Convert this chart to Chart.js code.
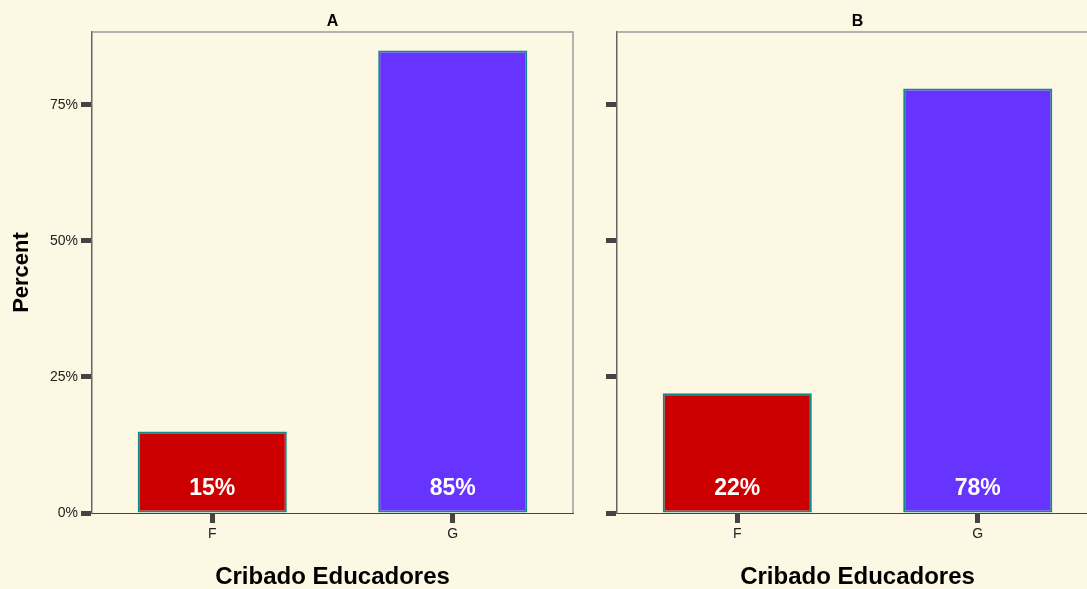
<!DOCTYPE html>
<html>
<head>
<meta charset="utf-8">
<script src="https://cdn.jsdelivr.net/npm/chart.js@4/dist/chart.umd.min.js"></script>
<style>
  html, body { margin: 0; padding: 0; }
  body { width: 1087px; height: 589px; overflow: hidden; position: relative; background: #FDF8E4; }
  canvas { position: absolute; top: 0; }
  #chartA { left: 0; }
  #chartB { left: 590px; }
</style>
</head>
<body>
<canvas id="chartA" width="590" height="589"></canvas>
<canvas id="chartB" width="520" height="589"></canvas>
<script>
// ---------- Data ----------
const categories = ["F", "G"];
const panelTitles = ["A", "B"];
const valuesA = [15, 85];
const valuesB = [22, 78];
const yMax = 88.4;
const yStep = 25;
const barColors = ["#CC0000", "#6633FF"];

const FONT = "'Liberation Sans', Arial, sans-serif";

// ---------- Plugins ----------
// panel title above the plot + frame round the plot area
const framePlugin = {
    id: "frame",
    beforeDatasetsDraw(chart, args, opts) {
        const { ctx, chartArea: a } = chart;
        ctx.save();
        ctx.strokeStyle = "#9a9a9a";
        ctx.lineWidth = 1.5;
        ctx.beginPath();
        ctx.moveTo(a.left, a.top);
        ctx.lineTo(a.right, a.top);
        ctx.lineTo(a.right, a.bottom);
        ctx.stroke();
        ctx.fillStyle = "#000";
        ctx.font = `bold 16px ${FONT}`;
        ctx.textAlign = "center";
        ctx.textBaseline = "middle";
        ctx.fillText(opts.text, (a.left + a.right) / 2, 22);
        ctx.restore();
    }
};

// percentage labels near the base of each bar
const barLabels = {
    id: "barLabels",
    afterDatasetsDraw(chart) {
        const { ctx } = chart;
        ctx.save();
        ctx.fillStyle = "#fff";
        ctx.font = `bold 23px ${FONT}`;
        ctx.textAlign = "center";
        ctx.textBaseline = "middle";
        chart.data.datasets.forEach((ds, di) => {
            chart.getDatasetMeta(di).data.forEach((bar, i) => {
                ctx.fillText(`${ds.data[i]}%`, bar.x, bar.base - 24);
            });
        });
        ctx.restore();
    }
};

// ---------- Charts ----------
function makePanel(canvas, title, values, showY, yWidth, padRight) {
    return new Chart(canvas, {
        type: "bar",
        data: {
            labels: categories,
            datasets: [{
                data: values,
                backgroundColor: barColors,
                borderColor: "#138a87",
                borderWidth: 2,
                borderSkipped: false,
                barPercentage: 0.62,
                categoryPercentage: 1
            }]
        },
        options: {
            responsive: false,
            animation: false,
            layout: { padding: { left: 0, right: padRight, top: 32, bottom: 0 } },
            plugins: {
                legend: { display: false },
                tooltip: { enabled: false },
                frame: { text: title }
            },
            scales: {
                x: {
                    afterFit: s => { s.height = 76; },
                    grid: { offset: false, drawOnChartArea: false, color: "#444", tickWidth: 5, tickLength: 10 },
                    border: { color: "#444", width: 1 },
                    ticks: { color: "#222", padding: 3, font: { family: FONT, size: 14 } },
                    title: {
                        display: true, text: "Cribado Educadores", color: "#000",
                        font: { family: FONT, size: 24, weight: "bold", lineHeight: 1 },
                        padding: { top: 0, bottom: 0 }
                    }
                },
                y: {
                    min: 0, max: yMax,
                    afterFit: s => { s.width = yWidth; },
                    grid: { drawOnChartArea: false, color: "#444", tickWidth: 5, tickLength: 11 },
                    border: { color: "#666", width: 1.5 },
                    ticks: {
                        stepSize: yStep, includeBounds: false, color: "#222", padding: 3,
                        font: { family: FONT, size: 14 },
                        callback: v => showY ? `${v}%` : ""
                    },
                    title: {
                        display: showY, text: "Percent", color: "#000",
                        font: { family: FONT, size: 22, weight: "bold" },
                        padding: { top: 9, bottom: 0 }
                    }
                }
            }
        },
        plugins: [framePlugin, barLabels]
    });
}

makePanel(document.getElementById("chartA"), panelTitles[0], valuesA, true, 92, 17);
makePanel(document.getElementById("chartB"), panelTitles[1], valuesB, false, 27, 12);
</script>
</body>
</html>
